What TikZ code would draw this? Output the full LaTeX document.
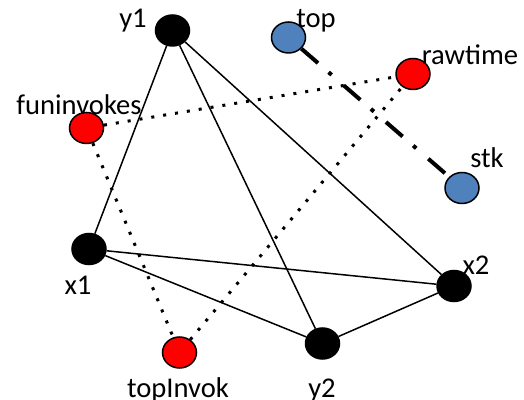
\documentclass[tikz,border=0pt]{standalone}
\usepackage{fontspec}
\setmainfont{Carlito}
\usetikzlibrary{shapes.geometric}

\begin{document}
\begin{tikzpicture}[x=0.5pt, y=-0.5pt,
        lab/.style={anchor=base, inner sep=0pt, font=\fontsize{14.3}{17}\selectfont},
        vert/.style={ellipse, draw=black, line width=0.75pt, minimum width=17pt, minimum height=15.5pt, inner sep=0pt},
        var/.style={vert, fill=black},
        func/.style={vert, fill=red},
        stack/.style={vert, fill={rgb,255:red,79;green,129;blue,189}},
        dep/.style={line width=0.75pt},
        call/.style={line width=1.5pt, dash pattern=on 1.5pt off 4.5pt},
        push/.style={line width=2pt, dash pattern=on 11pt off 7pt on 2pt off 8pt}]
        \useasboundingbox (0,0) rectangle (524,400);

        \node[var] (y1) at (172.5,30.5) {};
        \node[var] (x1) at (89,249) {};
        \node[var] (x2) at (454,286) {};
        \node[var] (y2) at (322.5,343.5) {};
        \node[func] (funinvokes) at (86.5,128) {};
        \node[func] (rawtime) at (413,74) {};
        \node[func] (topInvok) at (179.5,352.5) {};
        \node[stack] (top) at (288.5,37.5) {};
        \node[stack] (stk) at (462,188) {};

        \node[lab] (y1lab) at (133,28) {y1};
        \node[lab] (x1lab) at (78,295) {x1};
        \node[lab] (x2lab) at (476,275) {x2};
        \node[lab] (y2lab) at (322,397) {y2};
        \node[lab] (funinvokeslab) at (79,115) {funinvokes};
        \node[lab] (rawtimelab) at (470,65) {rawtime};
        \node[lab] (topInvoklab) at (178,397) {topInvok};
        \node[lab] (toplab) at (316,28) {top};
        \node[lab] (stklab) at (487,168) {stk};

        \draw[dep] (y1) -- (x1);
        \draw[dep] (y1) -- (y2);
        \draw[dep] (y1) -- (x2);
        \draw[dep] (x1) -- (x2);
        \draw[dep] (x1) -- (y2);
        \draw[dep] (y2) -- (x2);

        \draw[call] (funinvokes) -- (rawtime);
        \draw[call] (funinvokes) -- (topInvok);
        \draw[call] (topInvok) -- (rawtime);

        \draw[push] (top) -- (stk);
\end{tikzpicture}
\end{document}
